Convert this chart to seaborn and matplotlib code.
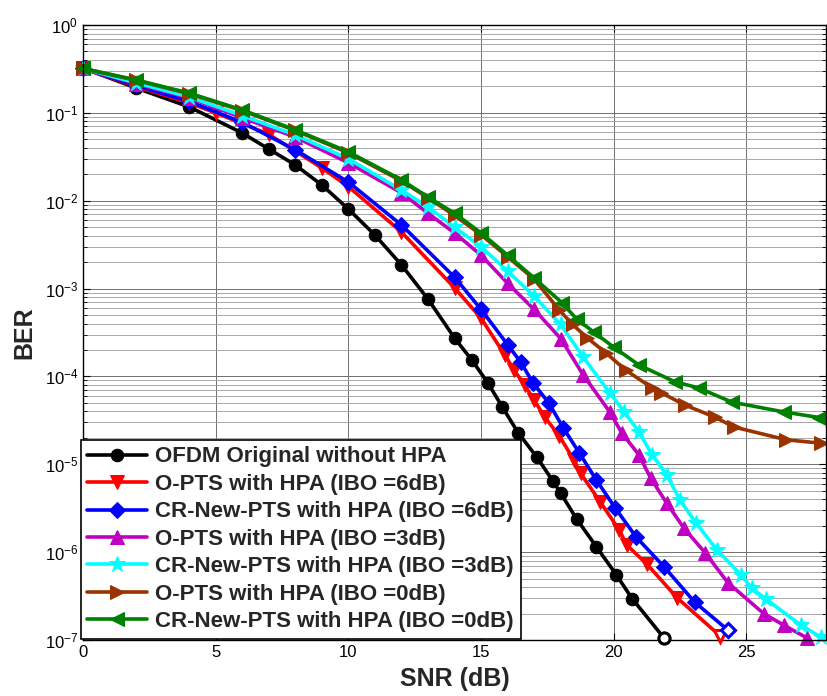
import matplotlib
matplotlib.use("Agg")
import matplotlib.pyplot as plt
from matplotlib.ticker import LogLocator, NullFormatter, FixedLocator
import seaborn as sns

# SNR (dB) / BER samples for each scheme
snr_ofdm = [0, 2, 4, 6, 7, 8, 9, 10, 11, 12, 13, 14, 14.65, 15.25, 15.8, 16.4,
            17.1, 17.7, 18.0, 18.6, 19.35, 20.1, 20.7, 21.9]
ber_ofdm = [0.324, 0.192, 0.117, 0.059, 0.0388, 0.0255, 0.0151, 0.00805, 0.00407,
            0.00186, 7.6e-4, 2.74e-4, 1.54e-4, 8.5e-5, 4.5e-5, 2.28e-5, 1.21e-5,
            6.5e-6, 4.7e-6, 2.39e-6, 1.15e-6, 5.5e-7, 2.94e-7, 1.05e-7]

snr_opts6 = [0, 2, 4, 5, 7, 9, 10, 12, 14, 15, 15.9, 16.25, 16.65, 17.0, 17.4,
             17.95, 18.5, 18.75, 19.5, 20.2, 20.5, 21.25, 22.4, 24.0]
ber_opts6 = [0.32, 0.2, 0.13, 0.1, 0.057, 0.0236, 0.0145, 0.0044, 0.00102, 4.6e-4,
             1.75e-4, 1.18e-4, 7.9e-5, 5.4e-5, 3.45e-5, 2.1e-5, 1.12e-5, 7.9e-6,
             3.7e-6, 1.8e-6, 1.2e-6, 7.3e-7, 3.0e-7, 1.12e-7]

snr_crpts6 = [0, 2, 4, 6, 8, 10, 12, 14, 15, 16, 16.5, 16.95, 17.55, 18.1, 18.7,
              19.35, 20.05, 20.85, 21.9, 23.05, 24.3]
ber_crpts6 = [0.32, 0.205, 0.135, 0.078, 0.038, 0.0163, 0.0053, 0.00135, 5.8e-4,
              2.3e-4, 1.45e-4, 8.5e-5, 5e-5, 2.6e-5, 1.35e-5, 6.6e-6, 3.2e-6,
              1.48e-6, 6.8e-7, 2.7e-7, 1.3e-7]

snr_opts3 = [0, 2, 4, 6, 8, 10, 12, 13, 14, 15, 16, 17, 18, 18.85, 19.85, 20.3,
             20.95, 21.4, 22.0, 22.65, 23.45, 24.3, 25.65, 26.4, 27.3]
ber_opts3 = [0.32, 0.215, 0.148, 0.088, 0.053, 0.027, 0.0123, 0.0072, 0.0043,
             0.0024, 0.00115, 5.8e-4, 2.7e-4, 1.04e-4, 3.95e-5, 2.28e-5, 1.28e-5,
             6.9e-6, 3.6e-6, 1.87e-6, 9.8e-7, 4.5e-7, 2.0e-7, 1.48e-7, 1.05e-7]

snr_crpts3 = [0, 2, 4, 6, 8, 10, 12, 13, 14, 15, 16, 17, 18, 18.85, 19.85, 20.4,
              20.95, 21.45, 22.0, 22.5, 23.1, 23.9, 24.8, 25.2, 25.75, 27.05, 27.8]
ber_crpts3 = [0.32, 0.22, 0.152, 0.093, 0.056, 0.03, 0.0132, 0.0085, 0.005, 0.003,
              0.00158, 8.2e-4, 3.9e-4, 1.66e-4, 6.5e-5, 3.95e-5, 2.33e-5, 1.28e-5,
              7.6e-6, 3.9e-6, 2.15e-6, 1.05e-6, 5.5e-7, 3.9e-7, 2.9e-7, 1.48e-7,
              1.08e-7]

snr_opts0 = [0, 2, 4, 6, 8, 10, 12, 13, 14, 15, 16, 17, 17.95, 18.45, 19.0, 19.7,
             20.45, 21.45, 21.8, 22.7, 23.8, 24.55, 26.5, 27.8]
ber_opts0 = [0.32, 0.235, 0.165, 0.106, 0.063, 0.035, 0.0168, 0.0108, 0.0068,
             0.0041, 0.0023, 0.00128, 5.7e-4, 3.9e-4, 2.75e-4, 1.86e-4, 1.18e-4,
             7.4e-5, 6.5e-5, 4.7e-5, 3.45e-5, 2.65e-5, 1.9e-5, 1.74e-5]

snr_crpts0 = [0, 2, 4, 6, 8, 10, 12, 13, 14, 15, 16, 17, 18.05, 18.6, 19.25, 20.0,
              20.95, 22.3, 23.2, 24.45, 26.4, 27.75]
ber_crpts0 = [0.32, 0.237, 0.168, 0.108, 0.064, 0.036, 0.0173, 0.011, 0.0072,
              0.0043, 0.0024, 0.00132, 6.9e-4, 4.5e-4, 3.2e-4, 2.15e-4, 1.35e-4,
              8.7e-5, 7.4e-5, 5.1e-5, 3.95e-5, 3.4e-5]

labels = ["OFDM Original without HPA",
          "O-PTS with HPA (IBO =6dB)",
          "CR-New-PTS with HPA (IBO =6dB)",
          "O-PTS with HPA (IBO =3dB)",
          "CR-New-PTS with HPA (IBO =3dB)",
          "O-PTS with HPA (IBO =0dB)",
          "CR-New-PTS with HPA (IBO =0dB)"]
x_ticks = [0, 5, 10, 15, 20, 25]

series = [
    (snr_ofdm, ber_ofdm, "#000000", "o", 9, True),
    (snr_opts6, ber_opts6, "#ff0000", "v", 10, True),
    (snr_crpts6, ber_crpts6, "#0000ff", "D", 8, True),
    (snr_opts3, ber_opts3, "#c000c0", "^", 10, False),
    (snr_crpts3, ber_crpts3, "#00ffff", "*", 12, False),
    (snr_opts0, ber_opts0, "#9a3300", ">", 10, False),
    (snr_crpts0, ber_crpts0, "#008000", "<", 10, False),
]

sns.set_style("ticks")
plt.rcParams["font.family"] = ["Liberation Sans", "DejaVu Sans"]
plt.rcParams["mathtext.fontset"] = "custom"
plt.rcParams["mathtext.rm"] = "Liberation Sans"

fig = plt.figure(figsize=(8.27, 6.96), dpi=100)
ax = fig.add_axes([83 / 827, 56 / 696, 743 / 827, 615 / 696])

for (x, y, col, mk, ms, hollow_end), lab in zip(series, labels):
    sns.lineplot(x=x, y=y, ax=ax, color=col, marker=mk, markersize=ms,
                 markeredgecolor=col, markerfacecolor=col, linewidth=2.6,
                 label=lab, estimator=None, sort=False, clip_on=False)
    if hollow_end:
        ax.plot(x[-1:], y[-1:], linestyle="none", marker=mk, markersize=ms - 1,
                markerfacecolor="white", markeredgecolor=col,
                markeredgewidth=2.2, clip_on=False, zorder=5)

ax.set_yscale("log")
ax.set_xlim(0, 28)
ax.set_ylim(1e-7, 1)
ax.xaxis.set_major_locator(FixedLocator(x_ticks))
ax.yaxis.set_major_locator(LogLocator(base=10, numticks=10))
ax.yaxis.set_minor_locator(LogLocator(base=10, subs=range(2, 10), numticks=100))
ax.yaxis.set_minor_formatter(NullFormatter())

ax.grid(which="major", color="#707070", linewidth=0.7)
ax.grid(which="minor", axis="y", color="#9a9a9a", linewidth=0.6)
ax.set_axisbelow(True)

ax.tick_params(which="both", direction="in", top=True, right=True,
               labelsize=12, colors="black")
ax.tick_params(which="major", length=5)
ax.tick_params(which="minor", length=3)
for sp in ax.spines.values():
    sp.set_linewidth(1.0)
    sp.set_color("black")

ax.set_xlabel("SNR (dB)", fontsize=18, fontweight="bold", labelpad=5)
ax.set_ylabel("BER", fontsize=18, fontweight="bold", labelpad=6)

leg = ax.legend(loc="lower left", bbox_to_anchor=(-0.003, 0.002),
                borderaxespad=0, prop={"weight": "bold", "size": 16},
                handlelength=2.7, labelspacing=0.29, handletextpad=0.35,
                borderpad=0.3, fancybox=False, framealpha=1,
                edgecolor="black")
leg.get_frame().set_linewidth(1.2)

fig.savefig("out.png", dpi=100)
